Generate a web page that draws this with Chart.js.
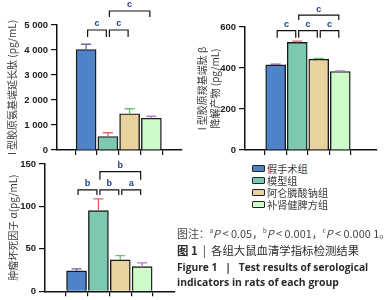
<!DOCTYPE html>
<html lang="zh">
<head>
<meta charset="UTF-8">
<title>各组大鼠血清学指标检测结果</title>
<script src="https://cdn.jsdelivr.net/npm/chart.js"></script>
<style>
  body { margin: 0; width: 391px; height: 300px; position: relative; overflow: hidden; background: #fff; }
  canvas { position: absolute; }
  .leg { position: absolute; left: 252px; height: 12px; display: flex; align-items: center;
         font: 10.2px "Noto Sans CJK SC", sans-serif; color: #3c3c3c; white-space: nowrap; }
  .leg span.box { width: 11px; height: 5px; border: 1.3px solid #222; border-radius: 1px; margin-right: 2px; }
  .cap { position: absolute; left: 177px; white-space: nowrap; color: #2a2a2a; }
</style>
</head>
<body>
<canvas id="c1" width="195" height="160" style="left:0;top:0"></canvas>
<canvas id="c2" width="196" height="160" style="left:195px;top:0"></canvas>
<canvas id="c3" width="195" height="150" style="left:0;top:150px"></canvas>

<div id="legend"></div>

<div class="cap" style="top:225px;font:10.9px 'Noto Sans CJK SC',sans-serif;color:#444">图注：<sup style="font-size:6px">a</sup><i>P</i> &lt; 0.05，<sup style="font-size:6px">b</sup><i>P</i> &lt; 0.001，<sup style="font-size:6px">c</sup><i>P</i> &lt; 0.000 1。</div>
<div class="cap" style="top:242px;font:11.4px 'Noto Sans CJK SC',sans-serif"><b>图 1</b> &nbsp;|&nbsp; 各组大鼠血清学指标检测结果</div>
<div class="cap" style="top:260px;font:bold 10.2px 'Open Sans',sans-serif">Figure 1 &nbsp;&nbsp;|&nbsp;&nbsp; Test results of serological</div>
<div class="cap" style="top:275px;font:bold 10.4px 'Open Sans',sans-serif">indicators in rats of each group</div>

<script>
// groups and colours
const groups = ['假手术组', '模型组', '阿仑膦酸钠组', '补肾健脾方组'];
const fills = ['#4f83c9', '#7dc9b0', '#e8d39e', '#cdfbcb'];
const errColors = ['#6f62a6', '#e06a6a', '#6cc46a', '#b27ad6'];

// I 型胶原氨基端延长肽
const piinp = [4020, 540, 1450, 1270];
const piinpErr = [210, 150, 200, 80];
const piinpTicks = [0, 1000, 2000, 3000, 4000, 5000];
const piinpSig = [[0, 1, 4800, 'c'], [1, 2, 4800, 'c'], [1, 3, 5560, 'c']];

// I 型胶原羧基端肽 β 降解产物
const ctx = [415, 525, 443, 383];
const ctxErr = [4, 6, 4, 3];
const ctxTicks = [0, 200, 400, 600];
const ctxSig = [[0, 1, 582, 'c'], [1, 2, 582, 'c'], [2, 3, 582, 'c'], [1, 3, 658, 'c']];

// 肿瘤坏死因子 α
const tnf = [24, 95, 37, 29];
const tnfErr = [2.5, 14, 5, 4.5];
const tnfTicks = [0, 50, 100, 150];
const tnfSig = [[0, 1, 119.4, 'b'], [1, 2, 119.4, 'b'], [2, 3, 119.4, 'a'], [1, 3, 141, 'b']];

// legend
const legend = document.getElementById('legend');
groups.forEach((g, i) => {
    const d = document.createElement('div');
    d.className = 'leg';
    d.style.top = (162 + i * 12) + 'px';
    d.innerHTML = '<span class="box" style="background:' + fills[i] + '"></span>' + g;
    legend.appendChild(d);
});

// error bars + significance brackets
function makeOverlay(vals, errs, sig, legs) {
    return {
        id: 'overlay',
        afterDatasetsDraw(chart) {
            const c = chart.ctx, x = chart.scales.x, y = chart.scales.y;
            c.save();
            c.lineWidth = 1.3;
            vals.forEach((v, i) => {
                const cx = x.getPixelForValue(i);
                const y0 = y.getPixelForValue(v), y1 = y.getPixelForValue(v + errs[i]);
                c.strokeStyle = errColors[i];
                c.beginPath();
                c.moveTo(cx, y0); c.lineTo(cx, y1);
                c.moveTo(cx - 5, y1); c.lineTo(cx + 5, y1);
                c.stroke();
            });
            c.strokeStyle = '#111';
            c.lineWidth = 1.2;
            c.font = 'bold 9px "Liberation Sans", Arial, sans-serif';
            c.fillStyle = '#24408a';
            c.textAlign = 'center';
            c.textBaseline = 'middle';
            sig.forEach(([a, b, lvl, txt], k) => {
                const leg = k === sig.length - 1 ? legs[1] : legs[0];
                const l = x.getPixelForValue(a) + 1.5, r = x.getPixelForValue(b) - 1.5;
                const yy = y.getPixelForValue(lvl);
                c.beginPath();
                c.moveTo(l, yy + leg); c.lineTo(l, yy); c.lineTo(r, yy); c.lineTo(r, yy + leg);
                c.stroke();
                c.fillText(txt, (l + r) / 2, yy - 6);
            });
            c.restore();
        }
    };
}

function spaced(v) {
    return String(v).replace(/\B(?=(\d{3})+$)/g, ' ');
}

function makeChart(id, vals, errs, ticks, sig, legs, box) {
    const tickFont = { family: '"Liberation Sans", Arial, sans-serif', size: 9.5, weight: 'bold' };
    return new Chart(document.getElementById(id), {
        type: 'bar',
        data: {
            datasets: [{
                data: vals.map((v, i) => ({ x: i, y: v })),
                backgroundColor: fills,
                borderColor: '#1a1a1a',
                borderWidth: 1.4,
                barThickness: 20
            }]
        },
        options: {
            responsive: false,
            animation: false,
            layout: { padding: { top: box.top, right: box.right, left: 0, bottom: 0 } },
            plugins: { legend: { display: false }, tooltip: { enabled: false } },
            scales: {
                x: {
                    type: 'linear',
                    min: box.xmin,
                    max: box.xmax,
                    afterBuildTicks: s => { s.ticks = vals.map((_, i) => ({ value: i })); },
                    afterFit: s => { s.height = box.xh; },
                    ticks: { callback: () => '', padding: 0 },
                    grid: { drawOnChartArea: false, tickLength: 5, color: '#111', lineWidth: 1.2 },
                    border: { color: '#111', width: 1.5 }
                },
                y: {
                    min: 0,
                    max: ticks[ticks.length - 1],
                    afterBuildTicks: s => { s.ticks = ticks.map(v => ({ value: v })); },
                    afterFit: s => { s.width = box.yw; },
                    ticks: { callback: v => spaced(v), font: tickFont, color: '#222', padding: 3 },
                    grid: { drawOnChartArea: false, tickLength: 6, color: '#111', lineWidth: 1.2 },
                    border: { color: '#111', width: 1.5 },
                    title: {
                        display: true,
                        text: box.title,
                        color: '#3a3a3a',
                        font: { family: '"Noto Sans CJK SC", sans-serif', size: 10, lineHeight: 1.3 },
                        padding: { top: box.tpad, bottom: 0 }
                    }
                }
            }
        },
        plugins: [makeOverlay(vals, errs, sig, legs)]
    });
}

makeChart('c1', piinp, piinpErr, piinpTicks, piinpSig, [7, 6],
    { top: 25, right: 13, yw: 57, xh: 10, xmin: -0.62, xmax: 3.69, tpad: 5.5,
      title: 'I 型胶原氨基端延长肽 (pg/mL)' });
makeChart('c2', ctx, ctxErr, ctxTicks, ctxSig, [7, 5],
    { top: 27, right: 14, yw: 50, xh: 10, xmin: -0.66, xmax: 3.94, tpad: 0.5,
      title: ['I 型胶原羧基端肽 β', '降解产物 (pg/mL)'] });
makeChart('c3', tnf, tnfErr, tnfTicks, tnfSig, [5, 8],
    { top: 14, right: 20, yw: 45, xh: 8.5, xmin: -0.70, xmax: 3.76, tpad: 6.5,
      title: '肿瘤坏死因子 α(pg/mL)' });
</script>
</body>
</html>
